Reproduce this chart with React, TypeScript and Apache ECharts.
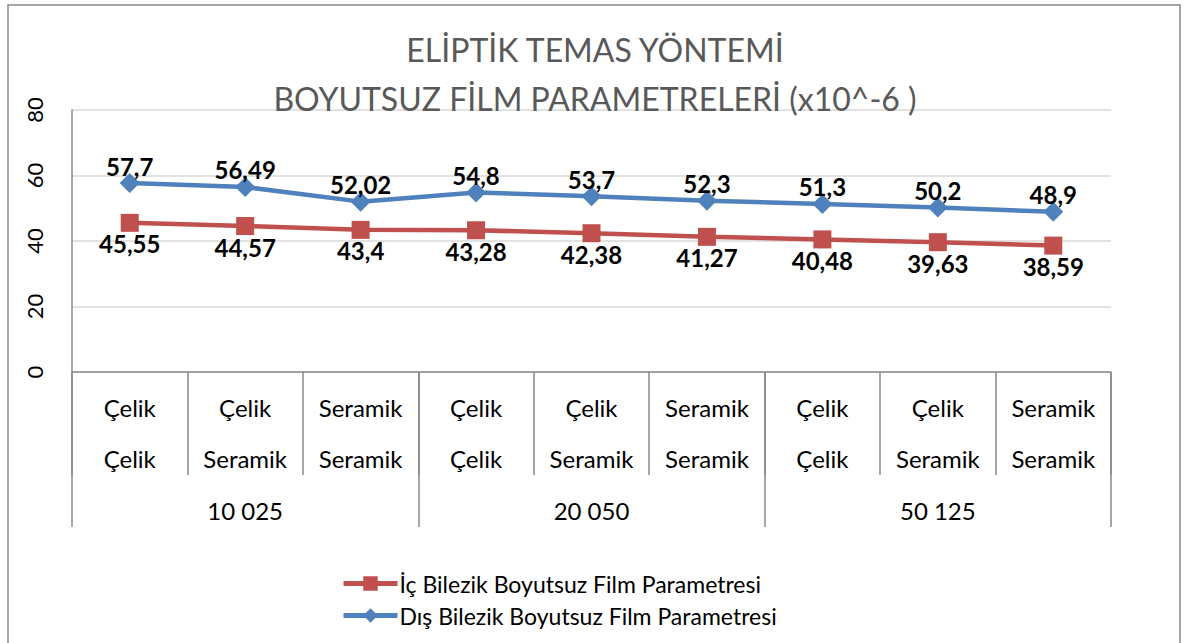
import React, { useEffect, useRef } from "react";
import * as echarts from "echarts";

const innerLabels = [
  "Çelik\nÇelik", "Çelik\nSeramik", "Seramik\nSeramik",
  "Çelik\nÇelik", "Çelik\nSeramik", "Seramik\nSeramik",
  "Çelik\nÇelik", "Çelik\nSeramik", "Seramik\nSeramik",
];
const groupLabels = ["10 025", "20 050", "50 125"];
const icValues = [45.55, 44.57, 43.4, 43.28, 42.38, 41.27, 40.48, 39.63, 38.59];
const disValues = [57.7, 56.49, 52.02, 54.8, 53.7, 52.3, 51.3, 50.2, 48.9];
const yTicks = { min: 0, max: 80, interval: 20 };
const titleText = "ELİPTİK TEMAS YÖNTEMİ\nBOYUTSUZ FİLM PARAMETRELERİ (x10^-6 )";
const seriesNames = ["İç Bilezik Boyutsuz Film Parametresi", "Dış Bilezik Boyutsuz Film Parametresi"];

const FONT = "Lato";
const fmt = (p: any) => String(p.value).replace(".", ",");

export default function App() {
  const ref = useRef<HTMLDivElement>(null);
  useEffect(() => {
    const chart = echarts.init(ref.current!, null, { renderer: "svg" });
    chart.setOption({
      animation: false,
      backgroundColor: "#ffffff",
      textStyle: { fontFamily: FONT },
      title: {
        text: titleText,
        left: "center",
        top: 20,
        textStyle: { fontFamily: FONT, fontSize: 32, fontWeight: "normal", color: "#595959", lineHeight: 49 },
      },
      graphic: [
        {
          type: "rect",
          shape: { x: 8, y: 5, width: 1172, height: 700 },
          style: { fill: "none", stroke: "#8a8a8a", lineWidth: 1.5 },
          silent: true,
        },
      ],
      legend: {
        orient: "vertical",
        left: 336,
        top: 567,
        itemWidth: 54,
        itemHeight: 18,
        itemGap: 9,
        lineStyle: { width: 5 },
        textStyle: { fontFamily: FONT, fontSize: 23, color: "#000", padding: [0, 0, 0, -3] },
        data: [seriesNames[0], seriesNames[1]],
      },
      grid: { left: 72, right: 79, top: 110, bottom: 271 },
      xAxis: [
        {
          type: "category",
          data: innerLabels,
          position: "bottom",
          axisLine: { show: true, lineStyle: { color: "#8a8a8a", width: 1.5 } },
          axisTick: { show: true, interval: 0, length: 103, lineStyle: { color: "#8a8a8a", width: 1.5 } },
          axisLabel: { interval: 0, margin: 10, fontFamily: FONT, fontSize: 24, lineHeight: 51, color: "#000" },
          splitLine: { show: false },
        },
        {
          type: "category",
          data: groupLabels,
          position: "bottom",
          axisLine: { show: false },
          axisTick: { show: true, interval: 0, length: 155, lineStyle: { color: "#8a8a8a", width: 1.5 } },
          axisLabel: { interval: 0, margin: 126, fontFamily: FONT, fontSize: 24, color: "#000" },
          splitLine: { show: false },
        },
      ],
      yAxis: {
        type: "value",
        min: yTicks.min,
        max: yTicks.max,
        interval: yTicks.interval,
        axisLine: { show: true, lineStyle: { color: "#8a8a8a", width: 1.5 } },
        axisTick: { show: false },
        axisLabel: { rotate: 90, margin: 27, fontFamily: FONT, fontSize: 22, color: "#000" },
        splitLine: { show: true, lineStyle: { color: "#d9d9d9", width: 1.5 } },
      },
      series: [
        {
          name: seriesNames[0],
          type: "line",
          xAxisIndex: 0,
          data: icValues,
          symbol: "rect",
          symbolSize: 18,
          color: "#C0504D",
          lineStyle: { width: 4.5, color: "#C0504D" },
          itemStyle: { color: "#C0504D" },
          label: {
            show: true,
            position: "bottom",
            distance: 0,
            formatter: fmt,
            fontFamily: FONT,
            fontSize: 24,
            fontWeight: "bold",
            color: "#000",
          },
        },
        {
          name: seriesNames[1],
          type: "line",
          xAxisIndex: 0,
          data: disValues,
          symbol: "diamond",
          symbolSize: 20,
          color: "#4F81BD",
          lineStyle: { width: 4.5, color: "#4F81BD" },
          itemStyle: { color: "#4F81BD" },
          label: {
            show: true,
            position: "top",
            distance: -5,
            formatter: fmt,
            fontFamily: FONT,
            fontSize: 24,
            fontWeight: "bold",
            color: "#000",
          },
        },
      ],
    });
    return () => chart.dispose();
  }, []);
  return (
    <div
      ref={ref}
      style={{ position: "fixed", left: 0, top: 0, width: 1190, height: 643, background: "#fff" }}
    />
  );
}
